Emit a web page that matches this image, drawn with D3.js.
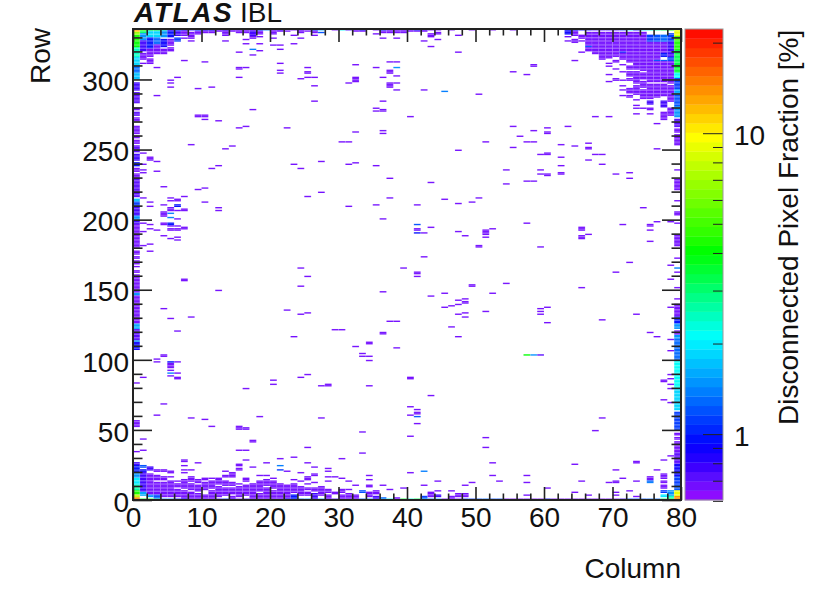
<!DOCTYPE html>
<html><head><meta charset="utf-8">
<style>html,body{margin:0;padding:0;background:#fff}svg{display:block}text{font-family:"Liberation Sans",Arial,sans-serif;fill:#111}</style>
<script src="https://cdn.jsdelivr.net/npm/d3@7/dist/d3.min.js"></script>
</head><body><svg id="c" width="830" height="596"></svg>
<script>
const xTicksMajor=[0,10,20,30,40,50,60,70,80];
const yTicksMajor=[0,50,100,150,200,250,300];
const zTicksMajor=[1,10];
const zTicksMinor=[0.6,0.7,0.8,0.9,2,3,4,5,6,7,8,9,20];
const xLabel="Column", yLabel="Row", zLabel="Disconnected Pixel Fraction [%]";
const weakValue=0.68;
// isolated cells at the lowest colour level: [column,row]
const weakCells=[[7,313],[10,312],[21,311],[32,310],[37,312],[38,312],[3,308],[15,308],[15,307],[16,308],[21,306],[21,304],[25,308],[25,304],[25,305],[25,301],[26,301],[24,300],[35,308],[37,306],[37,304],[37,305],[38,302],[6,301],[15,301],[5,299],[5,297],[5,294],[9,293],[11,294],[26,295],[32,298],[32,299],[32,300],[32,301],[31,297],[36,301],[37,294],[37,295],[37,296],[37,297],[38,297],[38,292],[3,288],[26,284],[36,284],[17,278],[35,279],[35,277],[36,277],[36,278],[9,273],[9,274],[10,273],[10,274],[10,271],[12,270],[40,273],[15,265],[16,266],[22,265],[32,262],[36,263],[36,261],[30,255],[31,255],[8,253],[14,252],[13,250],[1,247],[2,242],[2,243],[2,244],[3,241],[1,239],[1,235],[1,233],[3,234],[12,238],[11,236],[23,239],[24,236],[27,241],[31,239],[32,240],[35,238],[37,229],[4,223],[10,222],[9,221],
[13,327],[16,328],[16,325],[18,325],[20,324],[21,324],[21,321],[23,325],[18,320],[15,319],[17,317],[13,331],[13,332],[17,329],[17,330],[17,332],[18,330],[20,332],[20,329],[23,331],[24,329],[26,331],[36,329],[38,329],[35,332],[8,330],[8,327],
[42,327],[43,323],[44,328],[47,319],[43,330],[43,331],[43,332],[44,332],[47,331],[58,309],[58,310],[55,305],[57,303],[42,292],[50,289],[67,273],[69,273],[55,266],[58,263],[60,265],[60,261],[60,262],[63,266],[56,259],[57,255],[58,255],[51,255],[55,251],[47,249],[62,253],[64,252],[66,254],[66,250],[66,251],[67,246],[68,246],[66,242],[68,239],[59,246],[60,246],[60,247],[62,244],[62,238],[62,233],[62,232],[54,235],[59,235],[59,232],[60,232],[60,231],[70,232],[72,233],[72,229],[43,226],[54,225],[57,227],[58,227],[76,250],[76,268],
[7,216],[25,216],[27,219],[37,215],[1,215],[2,212],[2,209],[4,210],[5,215],[5,213],[6,213],[6,214],[10,212],[12,208],[12,206],[5,207],[5,208],[5,206],[6,206],[7,206],[7,207],[31,209],[35,210],[36,200],[4,202],[4,203],[4,204],[4,205],[6,200],[1,197],[2,196],[4,197],[4,196],[5,195],[6,195],[7,193],[7,194],[5,192],[5,193],[6,192],[6,193],[2,193],[3,192],[1,191],[4,188],[5,186],[6,187],[6,185],[2,182],[1,181],[2,177],[24,165],[39,165],[25,159],[7,157],[7,156],[12,149],[24,152],[36,148],[4,136],[22,135],[25,133],[24,132],[5,129],[8,130],[37,127],[38,127],[6,120],[29,121],[30,121],[36,118],[36,119],[23,116],[34,111],[34,112],[32,109],[38,108],
[45,214],[47,211],[49,212],[50,215],[41,210],[74,208],[57,197],[71,196],[76,198],[78,198],[75,195],[75,196],[75,192],[41,192],[41,193],[42,190],[43,194],[47,191],[48,188],[51,192],[51,191],[52,193],[51,190],[51,189],[51,187],[50,180],[50,181],[59,180],[65,192],[65,193],[65,194],[66,189],[65,186],[65,187],[65,188],[75,184],[42,173],[72,169],[70,162],[41,161],[41,162],[41,159],[78,167],[78,157],[49,152],[49,153],[54,154],[65,151],[52,147],[45,147],[43,145],[47,142],[48,143],[48,141],[48,140],[47,139],[46,138],[45,137],[51,134],[47,132],[48,133],[48,130],[59,136],[60,137],[59,134],[59,132],[60,126],[68,128],[73,132],[78,137],[46,123],[47,116],[75,119],[76,116],[78,114],
[33,104],[34,102],[33,102],[34,99],[4,102],[4,103],[3,100],[3,98],[5,94],[5,95],[5,96],[5,97],[6,98],[5,92],[6,90],[5,88],[6,87],[6,86],[1,87],[25,89],[24,87],[20,85],[20,82],[40,86],[40,87],[27,81],[28,81],[28,82],[34,81],[16,79],[4,68],[3,60],[8,58],[10,57],[18,59],[27,58],[11,52],[15,50],[15,51],[15,52],[16,50],[16,51],[33,48],[1,43],[17,41],[17,42],[1,35],[15,35],[16,35],[25,37],[33,33],[40,66],[40,60],[40,45],[40,19],
[43,74],[41,64],[41,61],[41,62],[41,54],[51,44],[51,37],[52,26],[52,17],[53,13],[44,13],[42,10],[48,10],[49,12],[39,8],[44,6],[46,6],[68,58],[67,49],[64,25],[70,21],[71,15],[73,26],[73,27],[76,21],[77,28],[78,31],[75,14],[75,15],[75,16],[73,13],[70,12],[70,13],[69,12],[65,13],[57,17],[57,12],[60,8],[64,5],[66,3],[57,3],[70,5],[70,3],[72,6],[73,2],[77,85],[77,84],[78,89],[78,86],[78,82],[78,79],[77,71],[78,69],[78,106],
[30,29],[23,30],[21,29],[9,26],[16,28],[19,26],[25,26],[17,23],[26,23],[28,22],[28,20],[24,19],[22,20],[26,18],[26,17]];
// cells of a higher, readable colour: [column,row,value]
const tintedCells=[[38,308,1.5],[17,321,1.35],[5,204,1.35],[5,201,1.35],[6,209,1.0],[6,210,1.0],[5,196,1.0],[5,197,1.0],[45,291,1.4],[41,196,1.2],[41,190,1.0],[5,90,1.35],[5,98,1.0],[41,59,1.2],[42,20,1.35],[75,12,1.4],[75,13,1.25],[57,103,4.0],[58,103,1.5],[59,103,0.72],[21,24,1.4],[21,21,1.1]];
// dense stretches read column by column: [column,firstRow,lastRow,value]
const bottomRuns=[[1,3,5,1.6],[1,6,19,.8],[1,20,21,.9],[1,23,24,1.2],[2,2,3,1.5],[2,4,18,.68],[2,21,23,.8],[3,1,3,1.2],[3,4,12,.68],[3,14,17,.68],[3,20,21,.68],[4,2,12,.68],[4,14,16,.68],[4,20,21,.68],[5,2,13,.68],[5,16,16,.68],[5,19,20,.68],[6,2,7,.68],[6,9,11,.68],[6,13,13,.68],[7,1,6,.68],[7,8,14,.68],[7,19,19,.68],[7,21,21,.68],[7,24,24,.68],[7,27,28,.68],[8,1,5,.68],[8,7,11,.68],[8,13,16,.68],[8,21,21,.68],[9,1,4,.68],[9,6,10,.68],[9,12,14,.68],[10,1,3,.68],[10,7,12,.68],[10,14,15,.68],[11,1,6,.68],[11,8,13,.68],[11,15,15,.68],[12,2,9,.68],[12,11,15,.68],[13,3,8,.68],[13,10,13,.68],[13,16,17,.68],[13,20,20,.68],[14,1,2,.68],[14,4,8,.68],[14,10,12,.68],[14,16,19,.68],[15,2,9,.68],[15,11,11,.68],[15,21,22,.68],[15,24,25,.68],[16,3,10,.68],[16,13,15,.68],[17,1,11,.68],[18,1,4,.68],[18,6,13,.68],[18,17,17,.68],[19,1,8,.68],[19,10,14,.68],[19,17,17,.68],[20,1,6,.68],[20,8,13,.68],[20,15,15,.68],[21,1,11,.68],[22,1,10,.68],[23,1,3,1.0],[23,5,11,.68],[23,14,14,.68],[24,3,9,.68],[24,13,13,.68],[25,3,5,.68],[25,7,8,.68],[25,11,11,.68],[25,14,16,.68],[26,1,4,.8],[26,6,8,.68],[26,12,12,.68],[27,3,9,.68],[28,1,3,.68],[28,5,7,.68],[28,13,13,.68],[28,16,16,.68],[29,4,5,.68],[29,16,16,.68],[30,1,3,.68],[30,5,7,.68],[30,15,15,.68],[31,1,4,.68],[31,7,7,.68],[31,13,13,.68],[32,1,3,.68],[32,10,10,.68],[33,5,6,1.2],[34,2,5,.68],[34,9,10,.68],[34,14,14,.68],[34,17,17,.68],[35,1,2,.8],[35,4,6,.68],[36,1,1,1.3],[36,10,10,.68],[37,7,7,.68],[38,1,1,.68],[43,2,5,.68],[44,2,3,.8],[47,2,4,.68],[48,2,4,.68],[42,1,2,1.1],[46,1,2,.68],[77,15,18,.68],[77,12,13,.68],[77,8,10,.68],[77,5,6,1.1],[77,2,3,2.0],[78,3,6,1.5],[78,1,2,2.4]];
const topLeftRuns=[[1,333,334,3.0],[1,328,332,1.5],[1,320,327,.8],[1,314,318,.68],[1,311,311,.68],[2,330,334,1.9],[2,322,329,1.0],[2,316,321,.68],[2,311,314,.68],[3,330,334,1.9],[3,325,329,1.3],[3,318,324,.68],[4,330,334,1.5],[4,323,328,.9],[4,318,321,.68],[5,330,334,1.0],[5,324,328,.68],[5,320,322,.68],[6,331,334,.8],[6,327,329,1.1],[7,331,334,.68],[7,329,329,.68],[8,331,333,.68],[8,329,329,.68],[9,332,334,.68],[10,333,334,.68],[11,333,334,.68],[12,334,334,.68],[13,333,334,.68],[14,334,334,.68],[15,333,334,.68],[16,333,334,.68],[17,331,334,.8],[18,332,334,.68],[20,333,334,.68],[21,334,334,.68],[22,334,334,.68],[24,333,334,.68],[25,334,334,.68],[26,333,334,.68],[27,333,333,1.2],[32,334,334,.68],[33,334,334,.68],[36,333,334,.68],[37,333,334,.68],[38,333,334,.68],[39,333,334,.68],[40,334,334,.68],[41,334,334,.68],[42,334,334,.68],[44,333,333,.68]];
const topRightRuns=[[63,332,334,.9],[63,330,330,.68],[63,327,327,.68],[64,331,334,.68],[64,326,328,.68],[65,329,331,.68],[65,327,327,.68],[65,319,319,.68],[64,313,313,.68],[66,324,333,.68],[66,323,323,1.2],[66,320,322,.68],[67,318,333,.68],[68,314,333,.68],[69,315,333,.68],[69,311,311,.68],[69,309,309,.68],[69,303,303,.68],[69,298,298,.68],[70,316,333,.68],[70,312,313,.68],[70,307,307,.68],[70,299,300,.68],[71,320,333,.68],[71,319,319,1.0],[71,314,318,.68],[71,310,310,.68],[71,305,305,.68],[71,299,299,.68],[71,295,295,.68],[71,292,292,.68],[71,288,288,.68],[72,312,333,.68],[72,307,309,.68],[72,302,305,.68],[72,299,300,.68],[72,290,293,.68],[72,287,288,.68],[73,307,333,.68],[73,297,305,.68],[73,289,295,.68],[73,285,285,.68],[73,281,281,.68],[73,279,279,.68],[73,275,275,.68],[74,306,333,.68],[74,300,304,.68],[74,294,298,.68],[74,286,292,.68],[74,279,279,.68],[75,298,326,.68],[75,327,331,1.1],[75,286,296,.68],[75,282,284,.8],[75,278,279,.68],[75,275,275,.68],[76,314,326,.68],[76,313,313,1.2],[76,327,331,1.2],[76,298,312,.68],[76,287,296,.68],[77,319,326,.68],[77,316,318,1.0],[77,313,313,1.2],[77,327,331,1.3],[77,298,312,.68],[77,288,296,.68],[77,280,284,.8],[77,271,276,.68],[78,327,332,1.15],[78,316,326,.8],[78,313,315,1.1],[78,297,312,.68],[78,284,295,.68],[78,274,279,.68]];
// first and last columns: [firstRow,lastRow,value]
const leftColumnRuns=[[0,1,14],[2,3,8],[4,6,4.5],[7,10,2.6],[11,15,2.0],[16,19,1.5],[20,24,1.0],[25,26,.8],[34,34,.68],[52,56,.68],[83,83,.68],[107,112,.9],[113,113,1.6],[114,121,.7],[122,125,1.6],[126,139,.68],[140,145,.68],[146,147,1.5],[148,160,.68],[162,163,.68],[166,166,.68],[168,170,.68],[172,173,.68],[175,177,.68],[180,196,.68],[197,199,.8],[200,202,1.5],[203,208,.8],[209,212,1.1],[213,214,1.7],[216,228,.72],[229,232,.68],[234,236,.68],[238,240,1.0],[242,246,.8],[248,252,.72],[254,256,.68],[258,259,.68],[261,266,.68],[270,272,.68],[274,276,.72],[278,279,.68],[283,290,.72],[292,297,.8],[300,304,1.7],[305,309,1.3],[310,315,1.8],[316,322,2.4],[323,326,4],[327,331,4.5],[332,333,7],[334,334,11]];
const rightColumnRuns=[[0,2,14],[3,6,9],[7,10,1.2],[11,16,1.1],[17,25,.9],[26,33,.72],[34,38,.68],[40,41,.68],[43,44,.68],[46,47,.68],[50,62,1.1],[64,78,1.8],[79,99,2.2],[100,114,1.3],[115,117,1.5],[118,120,.68],[122,125,1.5],[126,130,1.0],[131,139,.68],[143,143,.68],[151,151,.68],[162,162,.68],[165,165,1.4],[172,172,.68],[181,188,.68],[197,197,.68],[203,205,.68],[213,213,.68],[221,228,.68],[235,235,.68],[253,260,.68],[262,264,.68],[266,271,.72],[273,280,1.5],[281,288,1.2],[289,292,1.6],[293,300,1.1],[301,304,2.2],[305,310,3.6],[311,320,3.2],[321,327,4.5],[328,330,5.5],[331,334,9]];
// outermost rows, one value per column (null = empty)
const topRowValues=[15,5.5,4.5,4.5,2.6,.8,1.2,1.0,.9,1.35,1.0,.95,.68,.85,.68,.68,.68,.68,1.4,1.4,.68,.8,null,.68,.68,null,1.3,1.6,null,.68,2.2,.8,.68,1.0,null,.68,1.2,.68,.68,.68,.68,1.05,.8,.68,.68,null,.68,null,null,.68,null,null,.68,null,null,.68,null,null,null,null,null,null,null,1.0,1.1,1.0,.9,.8,.8,.8,.8,1.1,2.0,.9,1.9,2.3,2.6,3.4,4.0,10];
const bottomRowValues=[15,3.8,4.2,2.6,1.4,1.4,.9,.9,.68,.68,.68,.68,.8,1.1,.8,.68,.8,.68,.68,.68,.68,.68,1.0,1.0,1.3,1.5,.8,1.5,.68,.8,.68,.68,.68,1.3,1.4,.8,1.5,2.2,.68,3.6,2.3,3.2,1.7,1.3,1.6,.68,.68,.68,1.1,1.1,1.2,1.3,1.2,1.2,.68,.68,.68,.68,.68,.68,1.0,.68,.68,.68,.68,.68,.68,.68,.68,.68,.68,.8,1.2,1.2,1.2,1.3,1.3,3.2,5,14];

const svg=d3.select("#c");
const x=d3.scaleLinear().domain([0,80]).range([133,681]);
const y=d3.scaleLinear().domain([0,336]).range([500,29]);
const zPos=d3.scaleLog().domain([0.604,22.2]).range([500,29]);
const levels=50;
const ramp=d3.scaleLinear().domain([0,0.117,0.346,0.524,0.77,1]).range(["#9a10ff","#0000ff","#00ffff","#00ff00","#ffff00","#ff0000"]).clamp(true);
const zFrac=d3.scaleLog().domain(zPos.domain()).range([0,1]).clamp(true);
const levelOf=v=>Math.min(levels-1,Math.floor(zFrac(v)*levels));
const levelColor=i=>ramp((i+0.5)/levels);
const color=v=>levelColor(levelOf(v));

const cells=[];
weakCells.forEach(d=>cells.push({c:d[0],r:d[1],v:weakValue}));
const addRuns=runs=>runs.forEach(d=>{for(let r=d[1];r<=d[2];r++)cells.push({c:d[0],r,v:d[3]});});
addRuns(bottomRuns);addRuns(topLeftRuns);addRuns(topRightRuns);
leftColumnRuns.forEach(d=>{for(let r=d[0];r<=d[1];r++)cells.push({c:0,r,v:d[2]});});
rightColumnRuns.forEach(d=>{for(let r=d[0];r<=d[1];r++)cells.push({c:79,r,v:d[2]});});
tintedCells.forEach(d=>cells.push({c:d[0],r:d[1],v:d[2]}));
topRowValues.forEach((v,c)=>{if(v!==null)cells.push({c,r:335,v});});
bottomRowValues.forEach((v,c)=>{if(v!==null)cells.push({c,r:0,v});});

const defs=svg.append("defs");
defs.append("filter").attr("id","soft").attr("x","-2%").attr("y","-2%").attr("width","104%").attr("height","104%")
  .append("feGaussianBlur").attr("stdDeviation","0.45");

const plot=svg.append("g").attr("filter","url(#soft)");
plot.selectAll("rect.cell").data(cells).join("rect").attr("class","cell")
  .attr("x",d=>x(d.c)).attr("y",d=>y(d.r+1))
  .attr("width",x(1)-x(0)).attr("height",y(0)-y(1))
  .attr("fill",d=>color(d.v));
// faint seams between neighbouring cells
const seams=svg.append("g").attr("stroke","#fff").attr("stroke-opacity",0.22).attr("stroke-width",0.6);
seams.selectAll("line.v").data(d3.range(1,80)).join("line").attr("class","v")
  .attr("x1",d=>x(d)).attr("x2",d=>x(d)).attr("y1",y(336)).attr("y2",y(0));
seams.selectAll("line.h").data(d3.range(2,336,2)).join("line").attr("class","h")
  .attr("y1",d=>y(d)).attr("y2",d=>y(d)).attr("x1",x(0)).attr("x2",x(80));

// palette
const bar=svg.append("g").attr("filter","url(#soft)");
bar.selectAll("rect").data(d3.range(levels)).join("rect")
  .attr("x",685).attr("width",38)
  .attr("y",i=>500-(i+1)*(471/levels)).attr("height",471/levels+0.3)
  .attr("fill",levelColor);

const ink="#222";
function style(g,w){g.select(".domain").remove();g.selectAll("line").attr("stroke",ink).attr("stroke-width",w);}
const xMinor=d3.range(0,81,2).filter(v=>v%10);
const yMinor=d3.range(0,331,10).filter(v=>v%50);
const labelFont=28;
[[d3.axisBottom,500],[d3.axisTop,29]].forEach(([ax,ty])=>{
  const isBottom=ty===500;
  const gMaj=svg.append("g").attr("transform",`translate(0,${ty})`).call(ax(x).tickValues(xTicksMajor).tickSize(-13).tickFormat(isBottom?d3.format("d"):""));
  style(gMaj,1.6);
  gMaj.selectAll("text").attr("font-size",labelFont).attr("y",27).attr("dy",0);
  const gMin=svg.append("g").attr("transform",`translate(0,${ty})`).call(ax(x).tickValues(xMinor).tickSize(-6.5).tickFormat(""));
  style(gMin,1.6);
});
[[d3.axisLeft,133],[d3.axisRight,681]].forEach(([ax,tx])=>{
  const isLeft=tx===133;
  const gMaj=svg.append("g").attr("transform",`translate(${tx},0)`).call(ax(y).tickValues(yTicksMajor).tickSize(-19).tickFormat(isLeft?d3.format("d"):""));
  style(gMaj,1.6);
  gMaj.selectAll("text").attr("font-size",labelFont).attr("x",-4).attr("dy","0.4em");
  const gMin=svg.append("g").attr("transform",`translate(${tx},0)`).call(ax(y).tickValues(yMinor).tickSize(-9.5).tickFormat(""));
  style(gMin,1.6);
});
svg.append("rect").attr("x",133).attr("y",29).attr("width",548).attr("height",471).attr("fill","none").attr("stroke",ink).attr("stroke-width",2);

// palette axis
const zMaj=svg.append("g").attr("transform","translate(723,0)").call(d3.axisRight(zPos).tickValues(zTicksMajor).tickSize(-20).tickPadding(11).tickFormat(d3.format("d")));
style(zMaj,1);zMaj.selectAll("text").attr("font-size",labelFont).attr("dy","0.4em");
const zMin=svg.append("g").attr("transform","translate(723,0)").call(d3.axisRight(zPos).tickValues(zTicksMinor).tickSize(-10).tickFormat(""));
style(zMin,1);
svg.append("rect").attr("x",685).attr("y",29).attr("width",38).attr("height",471).attr("fill","none").attr("stroke","#999").attr("stroke-width",1);

svg.append("text").attr("x",681).attr("y",578).attr("text-anchor","end").attr("font-size",28).text(xLabel);
svg.append("text").attr("transform","translate(50,84) rotate(-90)").attr("font-size",28).text(yLabel);
svg.append("text").attr("transform","translate(798,425) rotate(-90)").attr("font-size",28).text(zLabel);
svg.append("text").attr("x",134).attr("y",22).attr("font-size",28).attr("font-weight","bold").attr("font-style","italic").attr("letter-spacing",1.6).text("ATLAS");
svg.append("text").attr("x",240).attr("y",22).attr("font-size",28).text("IBL");
</script></body></html>
